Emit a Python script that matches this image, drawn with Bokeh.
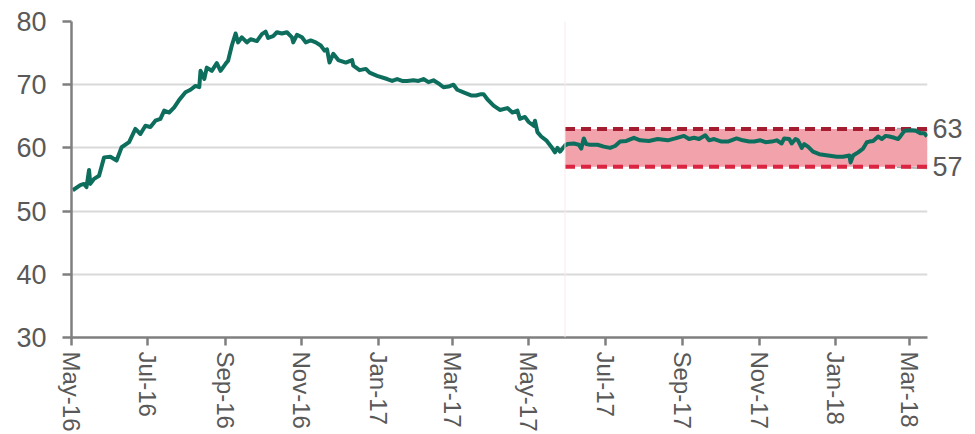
import datetime as dt
import pandas as pd
from bokeh.plotting import figure
from bokeh.models import Range1d, FixedTicker, DatetimeTickFormatter, Span, LinearAxis
from bokeh.embed import file_html
from bokeh.resources import INLINE

# ---------------- data ----------------
dates = [
    "2016-05-02", "2016-05-08", "2016-05-11", "2016-05-13", "2016-05-15", "2016-05-16",
    "2016-05-19", "2016-05-23", "2016-05-27", "2016-06-01", "2016-06-06", "2016-06-10",
    "2016-06-16", "2016-06-21", "2016-06-25", "2016-06-29", "2016-07-03", "2016-07-07",
    "2016-07-11", "2016-07-14", "2016-07-18", "2016-07-22", "2016-07-26", "2016-07-31",
    "2016-08-04", "2016-08-08", "2016-08-11", "2016-08-12", "2016-08-15", "2016-08-17",
    "2016-08-21", "2016-08-25", "2016-08-28", "2016-09-01", "2016-09-03", "2016-09-06",
    "2016-09-09", "2016-09-11", "2016-09-14", "2016-09-18", "2016-09-21", "2016-09-26",
    "2016-09-30", "2016-10-03", "2016-10-05", "2016-10-09", "2016-10-12", "2016-10-16",
    "2016-10-20", "2016-10-24", "2016-10-25", "2016-10-28", "2016-11-01", "2016-11-04",
    "2016-11-08", "2016-11-12", "2016-11-16", "2016-11-19", "2016-11-21", "2016-11-23",
    "2016-11-26", "2016-11-30", "2016-12-06", "2016-12-11", "2016-12-12", "2016-12-17",
    "2016-12-22", "2016-12-25", "2016-12-31", "2017-01-08", "2017-01-12", "2017-01-16",
    "2017-01-20", "2017-01-24", "2017-01-29", "2017-02-02", "2017-02-06", "2017-02-10",
    "2017-02-14", "2017-02-18", "2017-02-22", "2017-02-26", "2017-03-02", "2017-03-05",
    "2017-03-10", "2017-03-16", "2017-03-20", "2017-03-24", "2017-03-26", "2017-03-29",
    "2017-04-03", "2017-04-08", "2017-04-14", "2017-04-18", "2017-04-22", "2017-04-24",
    "2017-04-28", "2017-05-01", "2017-05-05", "2017-05-06", "2017-05-08", "2017-05-11",
    "2017-05-15", "2017-05-19", "2017-05-22", "2017-05-24", "2017-05-26", "2017-05-30",
    "2017-06-01", "2017-06-06", "2017-06-10", "2017-06-12", "2017-06-14", "2017-06-16",
    "2017-06-19", "2017-06-25", "2017-06-30", "2017-07-05", "2017-07-09", "2017-07-13",
    "2017-07-18", "2017-07-24", "2017-07-29", "2017-08-05", "2017-08-12", "2017-08-20",
    "2017-08-26", "2017-09-02", "2017-09-06", "2017-09-10", "2017-09-14", "2017-09-19",
    "2017-09-22", "2017-09-26", "2017-10-02", "2017-10-07", "2017-10-14", "2017-10-19",
    "2017-10-24", "2017-10-28", "2017-11-02", "2017-11-06", "2017-11-11", "2017-11-15",
    "2017-11-19", "2017-11-21", "2017-11-25", "2017-11-27", "2017-11-30", "2017-12-02",
    "2017-12-05", "2017-12-07", "2017-12-10", "2017-12-14", "2017-12-19", "2017-12-26",
    "2018-01-02", "2018-01-07", "2018-01-12", "2018-01-13", "2018-01-15", "2018-01-19",
    "2018-01-23", "2018-01-26", "2018-01-28", "2018-01-31", "2018-02-04", "2018-02-07",
    "2018-02-10", "2018-02-13", "2018-02-17", "2018-02-20", "2018-02-22", "2018-02-25",
    "2018-03-02", "2018-03-06", "2018-03-10", "2018-03-13", "2018-03-15",
]
values = [
    53.3, 54.1, 54.3, 53.8, 56.5, 54.3,
    55.1, 55.6, 58.5, 58.6, 58.0, 60.1,
    60.9, 63.0, 62.2, 63.5, 63.3, 64.3,
    64.6, 65.9, 65.6, 66.4, 67.6, 68.8,
    69.2, 69.8, 69.6, 72.2, 70.9, 72.7,
    72.2, 73.4, 72.2, 73.3, 73.8, 76.2,
    78.1, 76.7, 77.5, 76.7, 77.2, 76.9,
    78.0, 78.4, 77.4, 77.7, 78.3, 78.1,
    78.3, 77.5, 76.7, 77.9, 77.5, 76.7,
    77.0, 76.7, 76.2, 75.4, 75.6, 73.5,
    74.9, 73.9, 73.5, 73.9, 73.0, 72.3,
    72.5, 71.9, 71.4, 70.9, 70.6, 70.9,
    70.6, 70.6, 70.7, 70.6, 70.9, 70.4,
    70.7, 70.2, 69.6, 69.7, 70.0, 69.2,
    68.8, 68.3, 68.3, 68.5, 68.5, 67.7,
    66.7, 66.0, 66.3, 65.6, 65.9, 64.6,
    64.9, 64.1, 63.5, 64.3, 62.5, 61.8,
    61.2, 60.2, 59.3, 60.0, 59.4, 60.4,
    60.6, 60.7, 60.5, 59.9, 61.5, 60.6,
    60.5, 60.5, 60.2, 60.0, 60.3, 61.0,
    61.1, 61.6, 61.2, 61.1, 61.4, 61.2,
    61.5, 61.9, 61.4, 61.6, 61.4, 62.0,
    61.2, 61.4, 61.0, 61.0, 61.5, 61.2,
    61.0, 61.0, 61.2, 60.9, 61.0, 61.2,
    60.7, 61.5, 61.4, 60.7, 61.4, 61.2,
    60.0, 60.6, 60.2, 59.4, 59.0, 58.8,
    58.6, 58.6, 58.8, 57.7, 58.8, 59.3,
    59.9, 60.9, 61.0, 61.1, 61.8, 61.4,
    61.9, 61.8, 61.6, 61.4, 61.9, 62.7,
    62.8, 62.7, 62.3, 62.3, 61.8,
]

tick_dates = ["2016-05-01", "2016-07-01", "2016-09-01", "2016-11-01", "2017-01-01",
              "2017-03-01", "2017-05-01", "2017-07-01", "2017-09-01", "2017-11-01",
              "2018-01-01", "2018-03-01"]
y_ticks = [30, 40, 50, 60, 70, 80]

band_low = 57
band_high = 63
band_start = "2017-05-30"
leader_start = "2018-02-19"
x_start = dt.datetime(2016, 5, 1)
x_end = dt.datetime(2018, 3, 15, 10)

# ---------------- styling ----------------
FONT = "Liberation Sans"
TXT = "#595959"
AXIS = "#7f7f7f"
LINE = "#0e6e5e"

x = pd.to_datetime(dates)
bs = pd.Timestamp(band_start).to_pydatetime()
ls = pd.Timestamp(leader_start).to_pydatetime()

p = figure(width=975, height=434, x_axis_type="datetime",
           x_range=Range1d(x_start, x_end), y_range=Range1d(30, 80),
           output_backend="svg", toolbar_location=None,
           min_border_left=71, min_border_right=48, min_border_top=21,
           min_border_bottom=97)
p.outline_line_color = None
p.background_fill_color = "white"
p.border_fill_color = "white"

# grid
p.xgrid.grid_line_color = None
p.ygrid.grid_line_color = "#d9d9d9"
p.ygrid.grid_line_width = 2

# band
p.quad(left=[bs], right=[x_end], bottom=[band_low], top=[band_high],
       fill_color="#f1a2ab", line_color=None)
p.add_layout(Span(location=bs, dimension="height", line_color="#f9e8ec", line_width=1))

# leader lines for labels
p.segment(x0=[ls, ls], y0=[band_high + 0.05, band_low - 0.05], x1=[x_end, x_end],
          y1=[band_high - 0.1, band_low - 0.25], line_color="#a6a6a6", line_width=1.5)

# dashed limits
p.line([bs, x_end], [band_high, band_high], line_color="#a51b30", line_width=4,
       line_dash="10 6")
p.line([bs, x_end], [band_low, band_low], line_color="#dc2340", line_width=4,
       line_dash="10 6")

# series
p.line(x, values, line_color=LINE, line_width=4, line_join="round")

# axes
for ax in (p.xaxis, p.yaxis):
    ax.axis_line_color = AXIS
    ax.axis_line_width = 2.5
    ax.major_tick_line_color = AXIS
    ax.major_tick_line_width = 2.5
    ax.major_tick_in = 0
    ax.minor_tick_line_color = None
    ax.major_label_text_font = FONT
    ax.major_label_text_color = TXT

p.yaxis.ticker = FixedTicker(ticks=y_ticks)
p.yaxis.major_tick_out = 9
p.yaxis.major_label_standoff = 16
p.yaxis.major_label_text_font_size = "27px"

p.xaxis.ticker = FixedTicker(ticks=[pd.Timestamp(d).value / 1e6 for d in tick_dates])
p.xaxis.formatter = DatetimeTickFormatter(days="%b-%y", months="%b-%y", years="%b-%y")
p.xaxis.major_label_orientation = "vertical"
p.xaxis.major_label_text_font_size = "24px"
p.xaxis.major_tick_out = 8
p.xaxis.major_label_standoff = 6

# value labels for the band limits (right-hand axis)
right = LinearAxis(ticker=FixedTicker(ticks=[band_low, band_high]))
right.axis_line_color = None
right.major_tick_line_color = None
right.minor_tick_line_color = None
right.major_tick_in = 0
right.major_tick_out = 0
right.major_label_standoff = 5
right.major_label_text_font = FONT
right.major_label_text_font_size = "27px"
right.major_label_text_color = TXT
p.add_layout(right, "right")

open("out.html", "w").write(file_html(p, INLINE))
